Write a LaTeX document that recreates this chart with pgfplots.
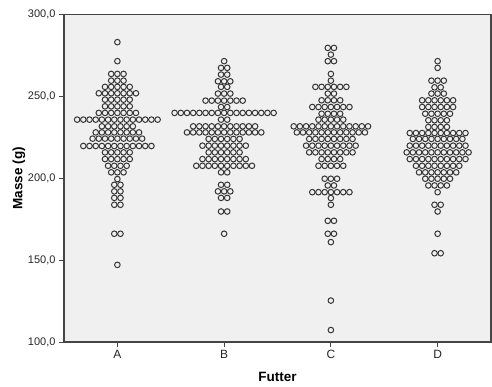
\documentclass[border=0pt]{standalone}
\usepackage{pgfplots}
\pgfplotsset{compat=1.18}
\usepackage{fontspec}
\setmainfont{Liberation Sans}
\definecolor{bg}{HTML}{F0F0F0}
\definecolor{dot}{HTML}{353535}
\definecolor{ax}{HTML}{454545}
% each row of a dot plot: {group}{value}{number of dots}
\newcommand\pts{}
\newcommand\addrow[3]{%
  \pgfmathsetmacro\hh{(#3-1)/2}%
  \foreach \i in {1,...,#3}{%
    \pgfmathsetmacro\xx{#1+(\i-1-\hh)*0.058}%
    \xdef\pts{\pts (\xx,#2)}%
  }%
}
% Group A
\addrow{0}{283.1}{1}
\addrow{0}{271.5}{1}
\addrow{0}{263.7}{3}
\addrow{0}{259.6}{3}
\addrow{0}{255.8}{5}
\addrow{0}{251.9}{7}
\addrow{0}{248.0}{5}
\addrow{0}{243.9}{5}
\addrow{0}{239.9}{7}
\addrow{0}{235.8}{14}
\addrow{0}{231.7}{6}
\addrow{0}{228.0}{8}
\addrow{0}{224.2}{9}
\addrow{0}{219.7}{12}
\addrow{0}{215.8}{5}
\addrow{0}{211.7}{5}
\addrow{0}{207.6}{4}
\addrow{0}{203.6}{3}
\addrow{0}{199.5}{1}
\addrow{0}{196.0}{2}
\addrow{0}{192.0}{2}
\addrow{0}{188.0}{2}
\addrow{0}{183.8}{2}
\addrow{0}{166.1}{2}
\addrow{0}{147.1}{1}
% Group B
\addrow{1}{271.5}{1}
\addrow{1}{267.4}{2}
\addrow{1}{263.3}{2}
\addrow{1}{259.2}{3}
\addrow{1}{255.8}{2}
\addrow{1}{251.7}{3}
\addrow{1}{247.4}{7}
\addrow{1}{243.5}{2}
\addrow{1}{239.9}{17}
\addrow{1}{235.8}{2}
\addrow{1}{231.7}{11}
\addrow{1}{228.0}{13}
\addrow{1}{224.0}{6}
\addrow{1}{219.9}{8}
\addrow{1}{215.8}{6}
\addrow{1}{211.7}{8}
\addrow{1}{207.6}{10}
\addrow{1}{203.6}{2}
\addrow{1}{196.0}{2}
\addrow{1}{192.0}{3}
\addrow{1}{188.0}{2}
\addrow{1}{179.7}{2}
\addrow{1}{166.1}{1}
% Group C
\addrow{2}{279.6}{2}
\addrow{2}{275.5}{1}
\addrow{2}{271.5}{2}
\addrow{2}{263.7}{1}
\addrow{2}{259.6}{1}
\addrow{2}{255.8}{6}
\addrow{2}{251.7}{2}
\addrow{2}{247.6}{4}
\addrow{2}{243.5}{7}
\addrow{2}{239.4}{4}
\addrow{2}{235.8}{5}
\addrow{2}{231.7}{13}
\addrow{2}{228.0}{12}
\addrow{2}{224.0}{8}
\addrow{2}{219.9}{9}
\addrow{2}{215.8}{8}
\addrow{2}{211.7}{4}
\addrow{2}{207.6}{5}
\addrow{2}{199.7}{3}
\addrow{2}{195.6}{2}
\addrow{2}{191.5}{7}
\addrow{2}{187.9}{1}
\addrow{2}{183.8}{1}
\addrow{2}{174.0}{2}
\addrow{2}{166.1}{2}
\addrow{2}{161.0}{1}
\addrow{2}{125.3}{1}
\addrow{2}{107.3}{1}
% Group D
\addrow{3}{271.5}{1}
\addrow{3}{267.4}{1}
\addrow{3}{259.6}{3}
\addrow{3}{255.5}{2}
\addrow{3}{251.7}{3}
\addrow{3}{247.6}{6}
\addrow{3}{243.5}{6}
\addrow{3}{239.4}{5}
\addrow{3}{235.4}{4}
\addrow{3}{231.3}{4}
\addrow{3}{227.6}{10}
\addrow{3}{224.0}{9}
\addrow{3}{219.9}{10}
\addrow{3}{215.8}{11}
\addrow{3}{211.7}{10}
\addrow{3}{207.6}{8}
\addrow{3}{203.6}{7}
\addrow{3}{199.7}{5}
\addrow{3}{195.6}{4}
\addrow{3}{191.5}{1}
\addrow{3}{183.8}{2}
\addrow{3}{179.7}{1}
\addrow{3}{166.1}{1}
\addrow{3}{154.2}{2}
\newcommand\doplot[1]{\addplot[only marks, mark=*, mark size=2.8pt,
  mark options={draw=dot, fill=bg, line width=1pt}] coordinates {#1};}
\begin{document}
\begin{tikzpicture}
\begin{axis}[
  scale only axis, width=427pt, height=327.5pt,
  xmin=-0.5, xmax=3.5, ymin=100, ymax=300,
  axis background/.style={fill=bg},
  axis line style={ax, line width=1.1pt},
  xtick={0,1,2,3}, xticklabels={A,B,C,D},
  ytick={100,150,200,250,300},
  tick align=outside, tick pos=left,
  major tick length=5pt,
  tick style={ax, line width=0.8pt},
  /pgf/number format/assume math mode=true,
  yticklabel={\pgfmathprintnumber[fixed,fixed zerofill,precision=1,use comma]{\tick}},
  yticklabel style={font=\fontsize{11}{13}\selectfont, text=black!85},
  xticklabel style={font=\fontsize{12}{14}\selectfont, text=black!85},
  xlabel={Futter}, ylabel={Masse (g)},
  every axis x label/.style={at={(axis description cs:0.5,0)}, yshift=-35pt, anchor=center,
    font=\fontsize{13.5}{16}\selectfont\bfseries},
  every axis y label/.style={at={(axis description cs:0,0.5)}, xshift=-45pt, rotate=90, anchor=center,
    font=\fontsize{13.5}{16}\selectfont\bfseries},
]
\expandafter\doplot\expandafter{\pts}
\coordinate (ll) at (rel axis cs:0,0);
\coordinate (ur) at (rel axis cs:1,1);
\end{axis}
\path ([shift={(-64pt,-45pt)}]ll) rectangle ([shift={(1pt,14.5pt)}]ur);
\end{tikzpicture}
\end{document}
